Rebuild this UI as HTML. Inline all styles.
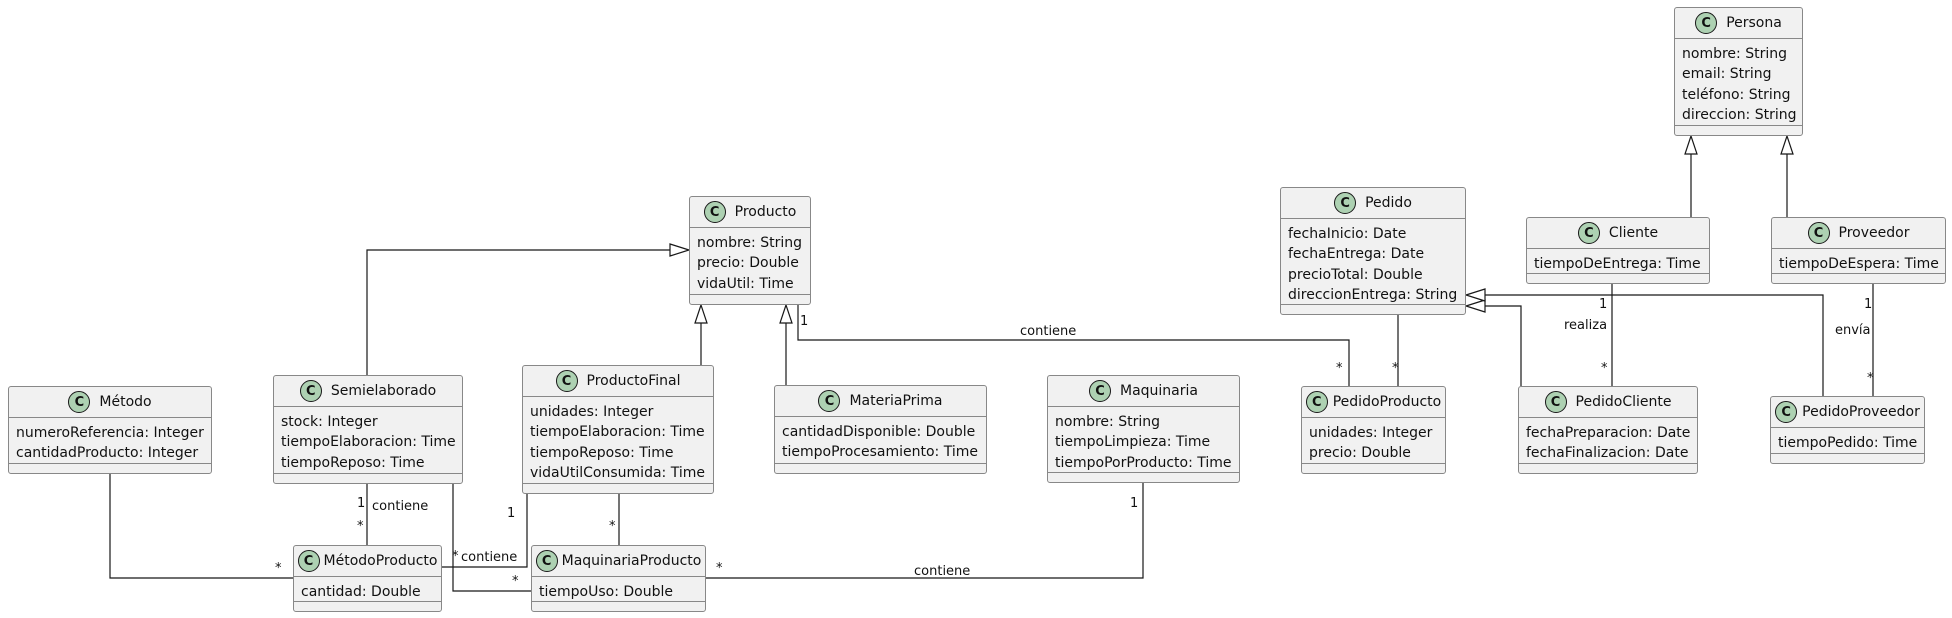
<!DOCTYPE html>
<html><head><meta charset="utf-8"><style>
body{margin:0;width:1952px;height:618px;background:#fff;position:relative;overflow:hidden;font-family:"DejaVu Sans","Liberation Sans",sans-serif;color:#111}
.b{position:absolute;background:#F1F1F1;border:1px solid #888;border-radius:3px;box-sizing:border-box;font-size:14px}
.h{height:31px;border-bottom:1px solid #888;display:flex;align-items:center;justify-content:center;box-sizing:border-box}
.i{width:22px;height:22px;border-radius:50%;background:#ADD1B2;border:1px solid #181818;box-sizing:border-box;display:flex;align-items:center;justify-content:center;font-weight:bold;font-size:13px;margin-right:9px;flex:none}
.a{padding:5px 0 0 7px;line-height:20.3px;white-space:nowrap}
.d{position:absolute;left:0;right:0;bottom:9px;border-top:1px solid #888}
svg{position:absolute;left:0;top:0}
svg text{font-family:"DejaVu Sans","Liberation Sans",sans-serif;font-size:13px;fill:#111}
</style></head><body>
<svg width="1952" height="618">
<g stroke="#181818" stroke-width="1.2" fill="none">
<polyline points="367,375 367,250 670,250"/>
<polygon points="689,250 670,244 670,256" fill="#fff"/>
<line x1="701" y1="365" x2="701" y2="323"/>
<polygon points="701,305 695,323 707,323" fill="#fff"/>
<line x1="786" y1="385" x2="786" y2="323"/>
<polygon points="786,305 780,323 792,323" fill="#fff"/>
<polyline points="798,305 798,340 1349,340 1349,386"/>
<line x1="1398" y1="315" x2="1398" y2="386"/>
<polyline points="1521,386 1521,306 1485,306"/>
<polygon points="1466,306 1485,300 1485,312" fill="#fff"/>
<polyline points="1823,396 1823,295 1485,295"/>
<polygon points="1466,295 1485,289 1485,301" fill="#fff"/>
<line x1="1612" y1="284" x2="1612" y2="386"/>
<line x1="1873" y1="284" x2="1873" y2="396"/>
<line x1="1691" y1="217" x2="1691" y2="154"/>
<polygon points="1691,136 1685,154 1697,154" fill="#fff"/>
<line x1="1787" y1="217" x2="1787" y2="154"/>
<polygon points="1787,136 1781,154 1793,154" fill="#fff"/>
<polyline points="110,474 110,578 293,578"/>
<line x1="367" y1="484" x2="367" y2="545"/>
<polyline points="453,484 453,591 531,591"/>
<polyline points="527,494 527,567 442,567"/>
<line x1="619" y1="494" x2="619" y2="545"/>
<polyline points="1143,483 1143,578 706,578"/>
</g>
<text x="800" y="325">1</text>
<text x="1020" y="335">contiene</text>
<text x="1336" y="372">*</text>
<text x="1392" y="372">*</text>
<text x="1599" y="308">1</text>
<text x="1564" y="329">realiza</text>
<text x="1601" y="372">*</text>
<text x="1864" y="308">1</text>
<text x="1835" y="334">envía</text>
<text x="1867" y="382">*</text>
<text x="275" y="572">*</text>
<text x="357" y="507">1</text>
<text x="372" y="510">contiene</text>
<text x="357" y="530">*</text>
<text x="452" y="560">*</text>
<text x="461" y="561">contiene</text>
<text x="512" y="585">*</text>
<text x="507" y="517">1</text>
<text x="609" y="530">*</text>
<text x="1130" y="507">1</text>
<text x="716" y="572">*</text>
<text x="914" y="575">contiene</text>
</svg>

<div class="b" style="left:1674px;top:7px;width:129px;height:129px"><div class="h"><span class="i">C</span>Persona</div><div class="a">nombre: String<br>email: String<br>teléfono: String<br>direccion: String</div><div class="d"></div></div>
<div class="b" style="left:1280px;top:187px;width:186px;height:128px"><div class="h"><span class="i">C</span>Pedido</div><div class="a">fechaInicio: Date<br>fechaEntrega: Date<br>precioTotal: Double<br>direccionEntrega: String</div><div class="d"></div></div>
<div class="b" style="left:1526px;top:217px;width:184px;height:67px"><div class="h"><span class="i">C</span>Cliente</div><div class="a">tiempoDeEntrega: Time</div><div class="d"></div></div>
<div class="b" style="left:1771px;top:217px;width:175px;height:67px"><div class="h"><span class="i">C</span>Proveedor</div><div class="a">tiempoDeEspera: Time</div><div class="d"></div></div>
<div class="b" style="left:1047px;top:375px;width:193px;height:108px"><div class="h"><span class="i">C</span>Maquinaria</div><div class="a">nombre: String<br>tiempoLimpieza: Time<br>tiempoPorProducto: Time</div><div class="d"></div></div>
<div class="b" style="left:1301px;top:386px;width:145px;height:88px"><div class="h"><span class="i" style="margin-right:5px">C</span>PedidoProducto</div><div class="a">unidades: Integer<br>precio: Double</div><div class="d"></div></div>
<div class="b" style="left:1518px;top:386px;width:180px;height:88px"><div class="h"><span class="i">C</span>PedidoCliente</div><div class="a">fechaPreparacion: Date<br>fechaFinalizacion: Date</div><div class="d"></div></div>
<div class="b" style="left:1770px;top:396px;width:155px;height:68px"><div class="h"><span class="i" style="margin-right:5px">C</span>PedidoProveedor</div><div class="a">tiempoPedido: Time</div><div class="d"></div></div>
<div class="b" style="left:689px;top:196px;width:122px;height:109px"><div class="h"><span class="i">C</span>Producto</div><div class="a">nombre: String<br>precio: Double<br>vidaUtil: Time</div><div class="d"></div></div>
<div class="b" style="left:8px;top:386px;width:204px;height:88px"><div class="h"><span class="i">C</span>Método</div><div class="a">numeroReferencia: Integer<br>cantidadProducto: Integer</div><div class="d"></div></div>
<div class="b" style="left:273px;top:375px;width:190px;height:109px"><div class="h"><span class="i">C</span>Semielaborado</div><div class="a">stock: Integer<br>tiempoElaboracion: Time<br>tiempoReposo: Time</div><div class="d"></div></div>
<div class="b" style="left:522px;top:365px;width:192px;height:129px"><div class="h"><span class="i">C</span>ProductoFinal</div><div class="a">unidades: Integer<br>tiempoElaboracion: Time<br>tiempoReposo: Time<br>vidaUtilConsumida: Time</div><div class="d"></div></div>
<div class="b" style="left:293px;top:545px;width:149px;height:67px"><div class="h"><span class="i" style="margin-right:4px">C</span>MétodoProducto</div><div class="a">cantidad: Double</div><div class="d"></div></div>
<div class="b" style="left:531px;top:545px;width:175px;height:67px"><div class="h"><span class="i" style="margin-right:4px">C</span>MaquinariaProducto</div><div class="a">tiempoUso: Double</div><div class="d"></div></div>
<div class="b" style="left:774px;top:385px;width:213px;height:89px"><div class="h"><span class="i">C</span>MateriaPrima</div><div class="a">cantidadDisponible: Double<br>tiempoProcesamiento: Time</div><div class="d"></div></div>
</body></html>
